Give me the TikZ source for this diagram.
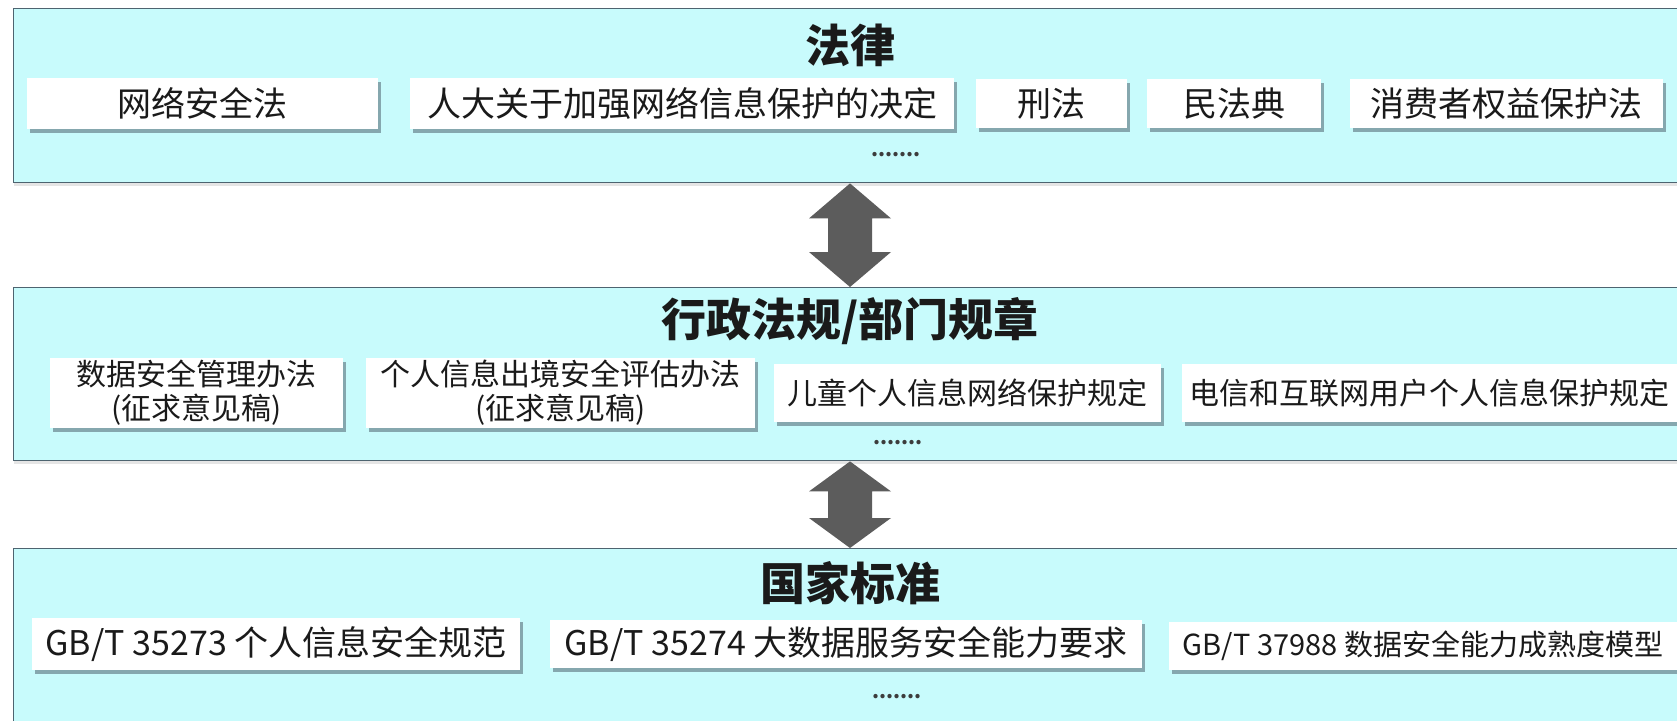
\documentclass[tikz,border=0pt]{standalone}
\usepackage{fontspec}
\setmainfont{Noto Sans CJK SC}
\usetikzlibrary{shadows,calc}
\definecolor{panelfill}{HTML}{C8FBFC}
\definecolor{panelborder}{HTML}{4E6470}
\definecolor{arrowc}{HTML}{5C5C5C}
\definecolor{textc}{HTML}{1A1A1A}
\definecolor{shadowc}{HTML}{6F8C94}
\begin{document}
\begin{tikzpicture}[x=1pt,y=-1pt,
  panel/.style={draw=panelborder,line width=1.4pt,fill=panelfill,anchor=north west,
    minimum width=1700pt,inner sep=0pt,
    drop shadow={shadow xshift=0pt,shadow yshift=-3pt,fill=gray!40,opacity=0.5}},
  ttl/.style={text=textc,font=\bfseries\fontsize{45}{50}\selectfont,inner sep=0pt},
  itm/.style={fill=white,text=textc,inner sep=0pt,align=center,
    drop shadow={shadow xshift=3pt,shadow yshift=-4pt,fill=shadowc,opacity=0.75}},
  fa/.style={font=\fontsize{34}{40}\selectfont},
  fb/.style={font=\fontsize{30}{34}\selectfont},
  fc/.style={font=\fontsize{29}{32}\selectfont},
  dotsnode/.style={text=textc!85,font=\bfseries\fontsize{20}{24}\selectfont,inner sep=0pt,anchor=base},
  bigarrow/.style={fill=arrowc}]
\useasboundingbox (0,0) rectangle (1677,720);
\fill[white] (0,0) rectangle (1677,720);
% panels
\node[panel,minimum height=174.5pt] (p1) at (13,7.5) {};
\node[panel,minimum height=173pt] (p2) at (13,287) {};
\node[panel,minimum height=200pt] (p3) at (13,548) {};
% titles
\node[ttl] (t1) at (850,45) {法律};
\node[ttl] (t2) at (850,321) {行政法规/部门规章};
\node[ttl] (t3) at (850,583) {国家标准};
% row 1
\node[itm,fa,minimum width=351pt,minimum height=51pt] (n11) at (202.5,103.5) {网络安全法};
\node[itm,fa,minimum width=544pt,minimum height=51pt] (n12) at (682,103.5) {人大关于加强网络信息保护的决定};
\node[itm,fa,minimum width=151pt,minimum height=49pt] (n13) at (1051.5,103.5) {刑法};
\node[itm,fa,minimum width=174pt,minimum height=49pt] (n14) at (1234,103.5) {民法典};
\node[itm,fa,minimum width=313pt,minimum height=49pt] (n15) at (1506.5,103.5) {消费者权益保护法};
\node[dotsnode] (d1) at (896,156) {.......};
% row 2
\node[itm,fb,minimum width=293pt,minimum height=70pt] (n21) at (196.5,393) {数据安全管理办法\\(征求意见稿)};
\node[itm,fb,minimum width=389pt,minimum height=70pt] (n22) at (560.5,393) {个人信息出境安全评估办法\\(征求意见稿)};
\node[itm,fb,minimum width=387pt,minimum height=58pt] (n23) at (967.5,393) {儿童个人信息网络保护规定};
\node[itm,fb,minimum width=508pt,minimum height=58pt] (n24) at (1436,393) {\hspace*{-14pt}电信和互联网用户个人信息保护规定};
\node[dotsnode] (d2) at (898,444) {.......};
% row 3
\node[itm,fa,minimum width=488pt,minimum height=52pt] (n31) at (276,644) {GB/T 35273 个人信息安全规范};
\node[itm,fa,minimum width=592pt,minimum height=48pt] (n32) at (846,644) {GB/T 35274 大数据服务安全能力要求};
\node[itm,fc,minimum width=521pt,minimum height=48pt] (n33) at (1429.5,646) {\hspace*{-13pt}GB/T 37988 数据安全能力成熟度模型};
\node[dotsnode] (d3) at (897,698) {.......};
% arrows
\fill[bigarrow] (p1.south -| t1) -- ++(41,35) -- ++(-19,0)
  -- ($(p2.north -| t1)+(22,-35)$) -- ++(19,0) -- (p2.north -| t1)
  -- ++(-41,-35) -- ++(19,0) -- ($(p1.south -| t1)+(-22,35)$) -- ++(-19,0) -- cycle;
\fill[bigarrow] (p2.south -| t2) -- ++(41,30) -- ++(-19,0)
  -- ($(p3.north -| t2)+(22,-30)$) -- ++(19,0) -- (p3.north -| t2)
  -- ++(-41,-30) -- ++(19,0) -- ($(p2.south -| t2)+(-22,30)$) -- ++(-19,0) -- cycle;
\end{tikzpicture}
\end{document}
